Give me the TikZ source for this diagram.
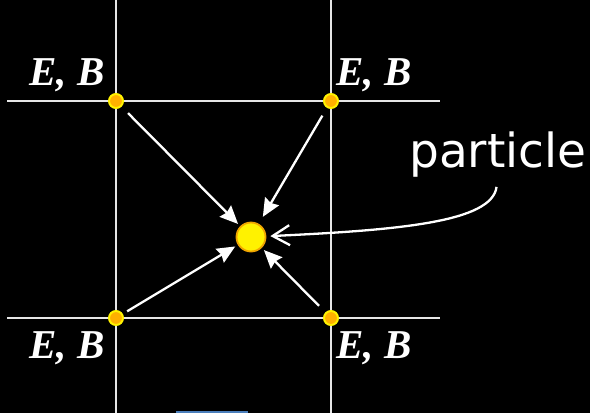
\documentclass[tikz,border=0pt]{standalone}
\usepackage{fontspec}
\setmainfont{Liberation Serif}
\newfontfamily\labelfont{DejaVu Sans}
\usetikzlibrary{arrows.meta}

\definecolor{sitefill}{RGB}{255,176,0}
\definecolor{ptclrim}{RGB}{240,165,0}
\definecolor{linegray}{RGB}{230,230,230}
\definecolor{tabblue}{RGB}{74,126,187}

\begin{document}
\begin{tikzpicture}[
    x=1pt, y=-1pt,
    gridline/.style={draw=linegray, line width=2.5pt},
    site/.style={circle, draw=yellow, fill=sitefill, line width=2pt, minimum size=14pt, inner sep=0pt},
    ptcl/.style={circle, draw=ptclrim, fill=yellow, line width=1.8pt, minimum size=29pt, inner sep=0pt},
    field/.style={font=\fontsize{41}{41}\selectfont\bfseries\itshape, text=white, inner sep=0pt},
    push/.style={draw=white, line width=2.3pt, -{Stealth[length=18pt,width=16pt,inset=2pt]}, shorten <=9pt, shorten >=3pt},
    pointer/.style={draw=white, line width=2.3pt, -{Straight Barb[length=17pt,width=20pt]}}
]
    \fill[black] (0,0) rectangle (590,413);
    \useasboundingbox (0,0) rectangle (590,413);

    % grid lines
    \draw[gridline] (116,0) -- (116,413);
    \draw[gridline] (331,0) -- (331,413);
    \draw[gridline] (7,101) -- (440,101);
    \draw[gridline] (7,318) -- (440,318);

    \node[site] (tl) at (116,101) {};
    \node[site] (tr) at (331,101) {};
    \node[site] (bl) at (116,318) {};
    \node[site] (br) at (331,318) {};
    \node[ptcl] (p) at (251,237) {};

    \node[field, anchor=base east] (ftl) at ([shift={(-11,-16)}]tl) {E, B};
    \node[field, anchor=base west] (ftr) at ([shift={(5,-16)}]tr) {E, B};
    \node[field, anchor=base east] (fbl) at ([shift={(-11,40)}]bl) {E, B};
    \node[field, anchor=base west] (fbr) at ([shift={(5,40)}]br) {E, B};

    \draw[push] (tl) -- (p);
    \draw[push, shorten >=8pt] (tr) -- (p);
    \draw[push, shorten <=5pt] (bl) -- (p);
    \draw[push] (br) -- (p);

    \node[font=\labelfont\fontsize{47}{47}\selectfont, text=white, anchor=base west, inner sep=0pt] (lbl) at (409,167) {particle};
    \draw[pointer, shorten <=10pt, shorten >=4pt] (lbl.south) .. controls (492,222) and (400,230) .. (p);

    \fill[tabblue] (176,411) rectangle (248,414);
\end{tikzpicture}
\end{document}
